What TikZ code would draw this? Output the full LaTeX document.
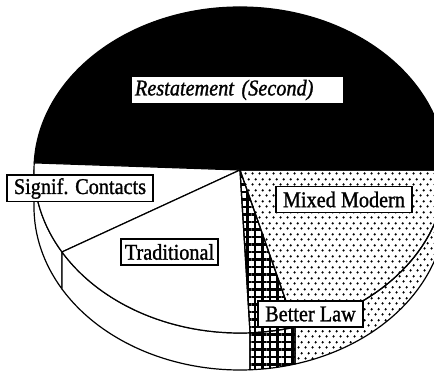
\documentclass[tikz,border=0pt]{standalone}
\usepackage{fontspec}
\setmainfont{Liberation Serif}[FakeStretch=0.9,FakeBold=1.2]
\usetikzlibrary{patterns,patterns.meta}

\newcommand\pieRx{206}
\newcommand\pieRy{163}
\newcommand\pieH{37}

% staggered dots like the scan
\pgfdeclarepatternformonly{stagdots}{\pgfqpoint{0pt}{0pt}}{\pgfqpoint{6.6pt}{10.6pt}}{\pgfqpoint{6.6pt}{10.6pt}}{%
  \pgfpathcircle{\pgfqpoint{1.65pt}{2.65pt}}{1.3pt}%
  \pgfpathcircle{\pgfqpoint{4.95pt}{7.95pt}}{1.3pt}%
  \pgfusepath{fill}}

\begin{document}
\begin{tikzpicture}
  [x=1pt,y=1pt,
   edge/.style={line width=1.2pt,line join=round},
   rad/.style={x radius=\pieRx,y radius=\pieRy},
   dotsF/.style={pattern=stagdots},
   gridF/.style={pattern={Hatch[distance=7.5pt,line width=2.2pt]}},
   tag/.style={draw,fill=white,line width=1.3pt,inner sep=3pt,
     minimum height=26pt,font=\fontsize{22.5}{24}\selectfont}]

  \useasboundingbox (0,0) rectangle (434,372);
  \fill[white] (0,0) rectangle (434,372);
  \clip (0,0) rectangle (434,372);

  \coordinate (ctr) at (240,202);

  % side of the pie
  \filldraw[edge,fill=white] (ctr) ++(180:\pieRx pt and \pieRy pt)
    arc[rad,start angle=180,end angle=210.2] -- ++(0,-\pieH)
    arc[rad,start angle=210.2,end angle=180] -- cycle;
  \filldraw[edge,fill=white] (ctr) ++(210.2:\pieRx pt and \pieRy pt)
    arc[rad,start angle=210.2,end angle=272.8] -- ++(0,-\pieH)
    arc[rad,start angle=272.8,end angle=210.2] -- cycle;
  \filldraw[edge,gridF] (ctr) ++(272.8:\pieRx pt and \pieRy pt)
    arc[rad,start angle=272.8,end angle=285.5] -- ++(0,-\pieH)
    arc[rad,start angle=285.5,end angle=272.8] -- cycle;
  \filldraw[edge,dotsF] (ctr) ++(285.5:\pieRx pt and \pieRy pt)
    arc[rad,start angle=285.5,end angle=360] -- ++(0,-\pieH)
    arc[rad,start angle=360,end angle=285.5] -- cycle;

  % top of the pie
  \filldraw[edge,fill=black] (ctr) -- ++(0:\pieRx pt and \pieRy pt)
    arc[rad,start angle=0,end angle=177.5] -- cycle;
  \filldraw[edge,fill=white] (ctr) -- ++(177.5:\pieRx pt and \pieRy pt)
    arc[rad,start angle=177.5,end angle=210.2] -- cycle;
  \filldraw[edge,fill=white] (ctr) -- ++(210.2:\pieRx pt and \pieRy pt)
    arc[rad,start angle=210.2,end angle=272.8] -- cycle;
  \filldraw[edge,gridF] (ctr) -- ++(272.8:\pieRx pt and \pieRy pt)
    arc[rad,start angle=272.8,end angle=285.5] -- cycle;
  \filldraw[edge,dotsF] (ctr) -- ++(285.5:\pieRx pt and \pieRy pt)
    arc[rad,start angle=285.5,end angle=360] -- cycle;

  % labels
  \node[tag,inner xsep=4pt,text width=205pt,align=left,font=\fontsize{22.5}{24}\selectfont\itshape]
    (restate) at (237.5,282) {Restatement (Second)};
  \node[tag,minimum width=146pt] (signif) at (80,183.5) {Signif. Contacts};
  \node[tag,minimum width=97pt] (trad) at (169.5,120) {Traditional};
  \node[tag,minimum width=136pt] (mixed) at (344,172.5) {Mixed Modern};
  \node[tag,minimum width=105pt] (better) at (310.5,58) {Better Law};

\end{tikzpicture}
\end{document}
